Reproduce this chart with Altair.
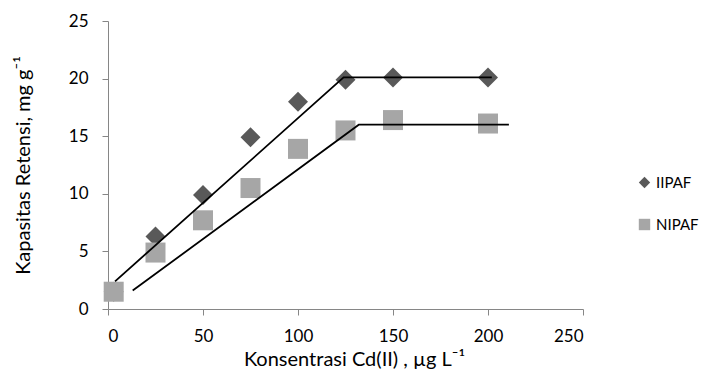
import altair as alt
import pandas as pd

# Measured data
ii_x = [3, 25, 50, 75, 100, 125, 150, 200]
ii_y = [1.5, 6.3, 9.9, 14.9, 18.0, 19.9, 20.1, 20.1]
ni_x = [3, 25, 50, 75, 100, 125, 150, 200]
ni_y = [1.5, 4.9, 7.7, 10.5, 13.9, 15.5, 16.4, 16.1]

# Fitted line segments
ii_line_x = [3.7, 124, 202]
ii_line_y = [2.4, 20.1, 20.1]
ni_line_x = [13, 132, 211]
ni_line_y = [1.6, 16.0, 16.0]

series = ["IIPAF", "NIPAF"]
colors = ["#595959", "#a6a6a6"]
shapes = ["diamond", "square"]

pts = pd.DataFrame(
    {"x": ii_x + ni_x, "y": ii_y + ni_y,
     "s": ["IIPAF"] * len(ii_x) + ["NIPAF"] * len(ni_x)}
)
pts["order"] = [0] * len(ii_x) + [1] * len(ni_x)
lines = pd.DataFrame(
    {"x": ii_line_x + ni_line_x, "y": ii_line_y + ni_line_y,
     "s": ["IIPAF"] * len(ii_line_x) + ["NIPAF"] * len(ni_line_x),
     "i": list(range(len(ii_line_x))) + list(range(len(ni_line_x)))}
)

xscale = alt.Scale(domain=[0, 250], nice=False)
yscale = alt.Scale(domain=[0, 25], nice=False)

xaxis = alt.Axis(title="Konsentrasi Cd(II) , µg L⁻¹", values=[0, 50, 100, 150, 200, 250],
                 grid=False, titlePadding=5, labelPadding=13, titleFontSize=20,
                 titleX=246, titleAlign="center")
yaxis = alt.Axis(title="Kapasitas Retensi, mg g⁻¹", values=[0, 5, 10, 15, 20, 25],
                 grid=False, titlePadding=35, labelPadding=14, titleFontSize=20)

points = alt.Chart(pts).mark_point(filled=True, opacity=1, size=400).encode(
    x=alt.X("x:Q", scale=xscale, axis=xaxis),
    y=alt.Y("y:Q", scale=yscale, axis=yaxis),
    color=alt.Color("s:N", scale=alt.Scale(domain=series, range=colors),
                    legend=alt.Legend(title=None, orient="none", legendX=529, legendY=154,
                                      rowPadding=26, symbolSize=130, labelFontSize=15,
                                      labelFont="Lato", labelColor="#000000",
                                      symbolStrokeWidth=0, labelOffset=4)),
    shape=alt.Shape("s:N", scale=alt.Scale(domain=series, range=shapes), legend=None),
    order=alt.Order("order:Q"),
)

fit = alt.Chart(lines).mark_line(color="#000000", strokeWidth=1.8).encode(
    x=alt.X("x:Q", scale=xscale),
    y=alt.Y("y:Q", scale=yscale),
    detail="s:N",
    order="i:Q",
)

chart = alt.layer(points, fit).properties(
    width=475, height=288,
    autosize=alt.AutoSizeParams(type="none"),
    padding={"left": 100, "top": 13, "right": 117, "bottom": 63},
).configure_view(stroke=None).configure_axis(
    domainColor="#868686", tickColor="#868686", tickSize=6,
    labelFont="Lato", labelFontSize=17, labelColor="#000000",
    titleFont="Lato", titleFontWeight="normal", titleColor="#000000",
)

chart.save("out.html", embed_options={"renderer": "svg", "actions": False})
